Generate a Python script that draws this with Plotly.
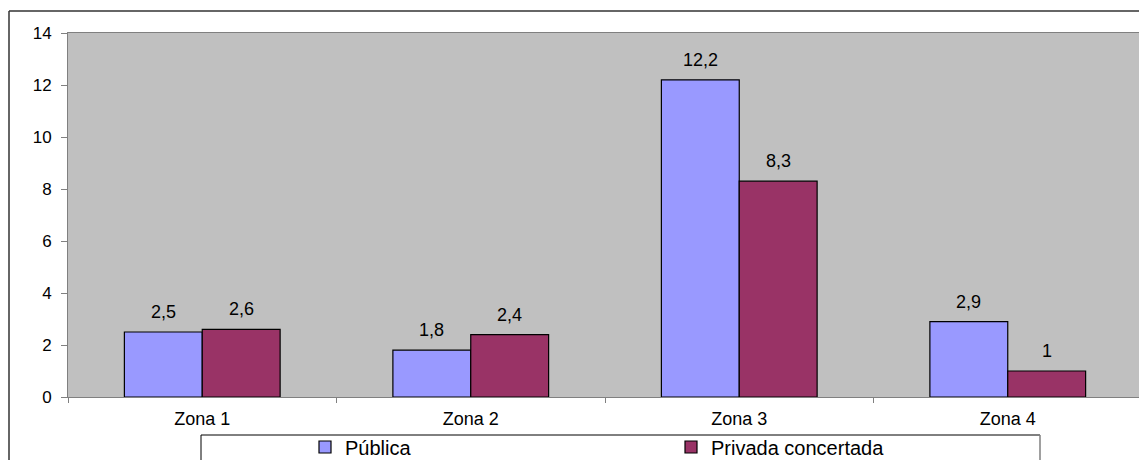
import plotly.graph_objects as go

categories = ["Zona 1", "Zona 2", "Zona 3", "Zona 4"]
publica = [2.5, 1.8, 12.2, 2.9]
privada = [2.6, 2.4, 8.3, 1.0]
series_names = ["Pública", "Privada concertada"]
y_ticks = [0, 2, 4, 6, 8, 10, 12, 14]

# The page body has an 8px default margin; size the figure so the whole
# page fits the 1147x468 window exactly (no scrollbars).
OFF = 8
W, H = 1147 - OFF, 468 - 2 * OFF
L, T = 68 - OFF, 33 - OFF
PW, PH = 1074, 364
R, B = W - L - PW, H - T - PH
BARGAP = 0.42
FONT = "Liberation Sans, Arial, sans-serif"

def px_x(p):
    """window pixel x -> paper x"""
    return (p - OFF - L) / PW

def px_y(p):
    """window pixel y -> paper y"""
    return (T + PH - (p - OFF)) / PH

def fmt(v):
    return f"{v:g}".replace(".", ",")

fig = go.Figure()
fig.add_bar(name=series_names[0], x=categories, y=publica,
            marker=dict(color="#9999FF", line=dict(color="#000000", width=1.2)))
fig.add_bar(name=series_names[1], x=categories, y=privada,
            marker=dict(color="#993366", line=dict(color="#000000", width=1.2)))

bw = (1 - BARGAP) / 2
annotations = []
for j, vals in enumerate([publica, privada]):
    for i, v in enumerate(vals):
        annotations.append(dict(
            x=i + (j - 0.5) * bw, y=v, xref="x", yref="y",
            text=fmt(v), showarrow=False, yanchor="middle", yshift=20,
            font=dict(family=FONT, size=18, color="#000000")))

shapes = [
    # outer chart border
    dict(type="line", xref="paper", yref="paper", x0=px_x(9), x1=px_x(1200),
         y0=px_y(11), y1=px_y(11), line=dict(color="#333333", width=1.5)),
    dict(type="line", xref="paper", yref="paper", x0=px_x(9), x1=px_x(9),
         y0=px_y(11), y1=px_y(520), line=dict(color="#333333", width=1.5)),
    # legend box
    dict(type="line", xref="paper", yref="paper", x0=px_x(201), x1=px_x(1040),
         y0=px_y(435), y1=px_y(435), line=dict(color="#000000", width=1)),
    dict(type="line", xref="paper", yref="paper", x0=px_x(201), x1=px_x(201),
         y0=px_y(435), y1=px_y(520), line=dict(color="#000000", width=1)),
    dict(type="line", xref="paper", yref="paper", x0=px_x(1040), x1=px_x(1040),
         y0=px_y(435), y1=px_y(520), line=dict(color="#808080", width=1.5)),
]

fig.update_layout(
    width=W, height=H,
    margin=dict(l=L, r=R, t=T, b=B, pad=0, autoexpand=False),
    paper_bgcolor="#FFFFFF", plot_bgcolor="#C0C0C0",
    barmode="group", bargap=BARGAP, bargroupgap=0,
    separators=",.",
    font=dict(family=FONT, size=17, color="#000000"),
    showlegend=True,
    legend=dict(orientation="h", xref="container", yref="container",
                x=(305 - OFF) / W, xanchor="left",
                y=1 - (447 - OFF) / H, yanchor="middle",
                font=dict(family=FONT, size=20, color="#000000"),
                entrywidth=321, bgcolor="rgba(0,0,0,0)", borderwidth=0,
                itemclick=False),
    annotations=annotations,
    shapes=shapes,
)
fig.update_xaxes(type="category", showline=True, linecolor="#808080", linewidth=1,
                 mirror=True, ticks="outside", tickson="boundaries", ticklen=5,
                 tickcolor="#808080", showgrid=False, zeroline=False,
                 automargin=False, ticklabelstandoff=5,
                 tickfont=dict(family=FONT, size=18, color="#000000"))
fig.update_yaxes(range=[0, 14], tickvals=y_ticks, showline=True, linecolor="#808080",
                 linewidth=1, mirror=True, ticks="outside", ticklen=6,
                 tickcolor="#808080", showgrid=False, zeroline=False,
                 ticklabelstandoff=6, automargin=False,
                 tickfont=dict(family=FONT, size=17, color="#000000"))

fig.write_html("out.html")
